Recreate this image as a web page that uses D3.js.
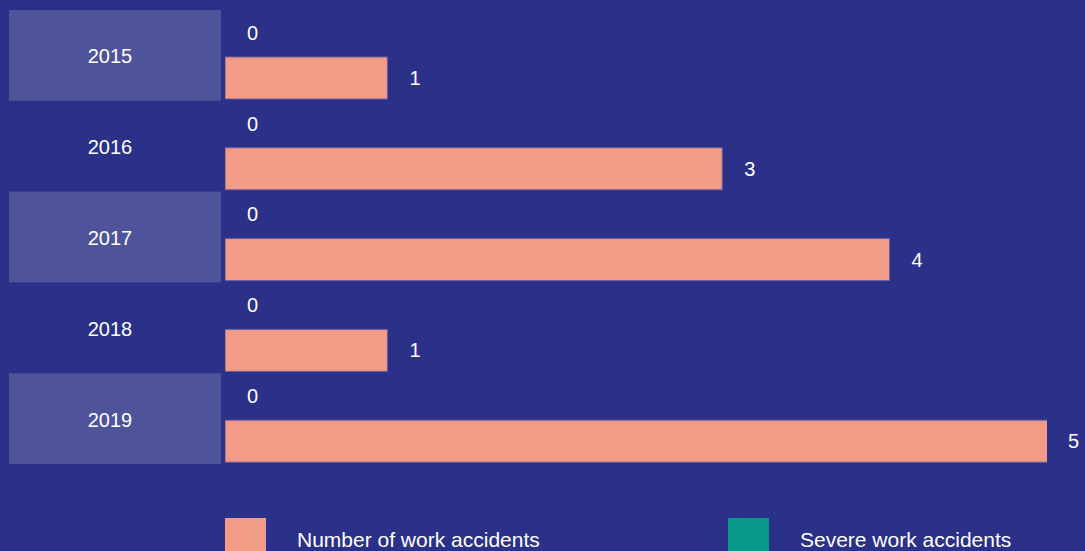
<!DOCTYPE html>
<html>
<head>
<meta charset="utf-8">
<script src="https://cdn.jsdelivr.net/npm/d3@7"></script>
<style>
    html, body { margin: 0; padding: 0; background: #2b3088; }
    svg { display: block; font-family: "Liberation Sans", Arial, sans-serif; }
</style>
</head>
<body>
<div id="chart"></div>
<script>
const years = ['2015', '2016', '2017', '2018', '2019'];
const severeAccidents = [0, 0, 0, 0, 0];
const workAccidents = [1, 3, 4, 1, 5];
const seriesNames = ['Severe work accidents', 'Number of work accidents'];
const seriesKeys = ['severe', 'number'];

const width = 1085, height = 551;
const colors = { severe: '#07998a', number: '#f29b86' };

const svg = d3.select('#chart').append('svg')
    .attr('width', width)
    .attr('height', height);

svg.append('rect')
    .attr('width', width)
    .attr('height', height)
    .attr('fill', '#2b3088');

const rows = years.map((y, i) => ({ year: y, severe: severeAccidents[i], number: workAccidents[i] }));

// year bands
const yScale = d3.scaleBand()
    .domain(years)
    .range([10, 464]);

// two sub bars within each year
const subScale = d3.scaleBand()
    .domain(seriesKeys)
    .range([0, yScale.bandwidth()])
    .paddingInner(0.07)
    .paddingOuter(0.04);

const xScale = d3.scaleLinear()
    .domain([0, 5])
    .range([220, 1057]);

const barStart = xScale(0) + 5;
const plotRight = 1046;

// where a bar visibly ends (the longest one is clipped)
const barEnd = v => Math.min(Math.max(xScale(v), barStart), plotRight);

svg.append('clipPath')
    .attr('id', 'plotClip')
    .append('rect')
    .attr('x', barStart)
    .attr('y', 0)
    .attr('width', plotRight - barStart + 1)
    .attr('height', height);

// alternating label panels
svg.selectAll('.band')
    .data(rows.filter((d, i) => i % 2 === 0))
    .enter()
    .append('rect')
    .attr('class', 'band')
    .attr('x', 9)
    .attr('width', 212)
    .attr('y', d => yScale(d.year))
    .attr('height', yScale.bandwidth())
    .attr('fill', '#4f5399');

svg.selectAll('.yearLabel')
    .data(rows)
    .enter()
    .append('text')
    .attr('class', 'yearLabel')
    .attr('x', 110)
    .attr('y', d => yScale(d.year) + yScale.bandwidth() / 2 + 1)
    .attr('dy', '0.35em')
    .attr('text-anchor', 'middle')
    .attr('fill', '#ffffff')
    .attr('font-size', 20)
    .text(d => d.year);

const groups = svg.selectAll('.yearGroup')
    .data(rows)
    .enter()
    .append('g')
    .attr('class', 'yearGroup')
    .attr('transform', d => 'translate(0,' + yScale(d.year) + ')');

const cells = groups.selectAll('.cell')
    .data(d => seriesKeys.map(k => ({ key: k, value: d[k] })))
    .enter();

cells.append('rect')
    .filter(d => d.value > 0)
    .attr('clip-path', 'url(#plotClip)')
    .attr('x', barStart)
    .attr('y', d => subScale(d.key))
    .attr('width', d => xScale(d.value) - barStart)
    .attr('height', subScale.bandwidth())
    .attr('fill', d => colors[d.key])
    .attr('stroke', '#6b5ea3')
    .attr('stroke-width', 1);

cells.append('text')
    .attr('x', d => barEnd(d.value) + 22)
    .attr('y', d => subScale(d.key) + subScale.bandwidth() / 2)
    .attr('dy', '0.35em')
    .attr('fill', '#ffffff')
    .attr('font-size', 20)
    .text(d => d.value);

// legend
const legendItems = [
    { key: 'number', name: seriesNames[1], x: 225 },
    { key: 'severe', name: seriesNames[0], x: 728 }
];

const legend = svg.selectAll('.legend')
    .data(legendItems)
    .enter()
    .append('g')
    .attr('class', 'legend')
    .attr('transform', d => 'translate(' + d.x + ',518)');

legend.append('rect')
    .attr('width', 41)
    .attr('height', 40)
    .attr('fill', d => colors[d.key]);

legend.append('text')
    .attr('x', 72)
    .attr('y', 22)
    .attr('dy', '0.35em')
    .attr('fill', '#ffffff')
    .attr('font-size', 21)
    .text(d => d.name);
</script>
</body>
</html>
